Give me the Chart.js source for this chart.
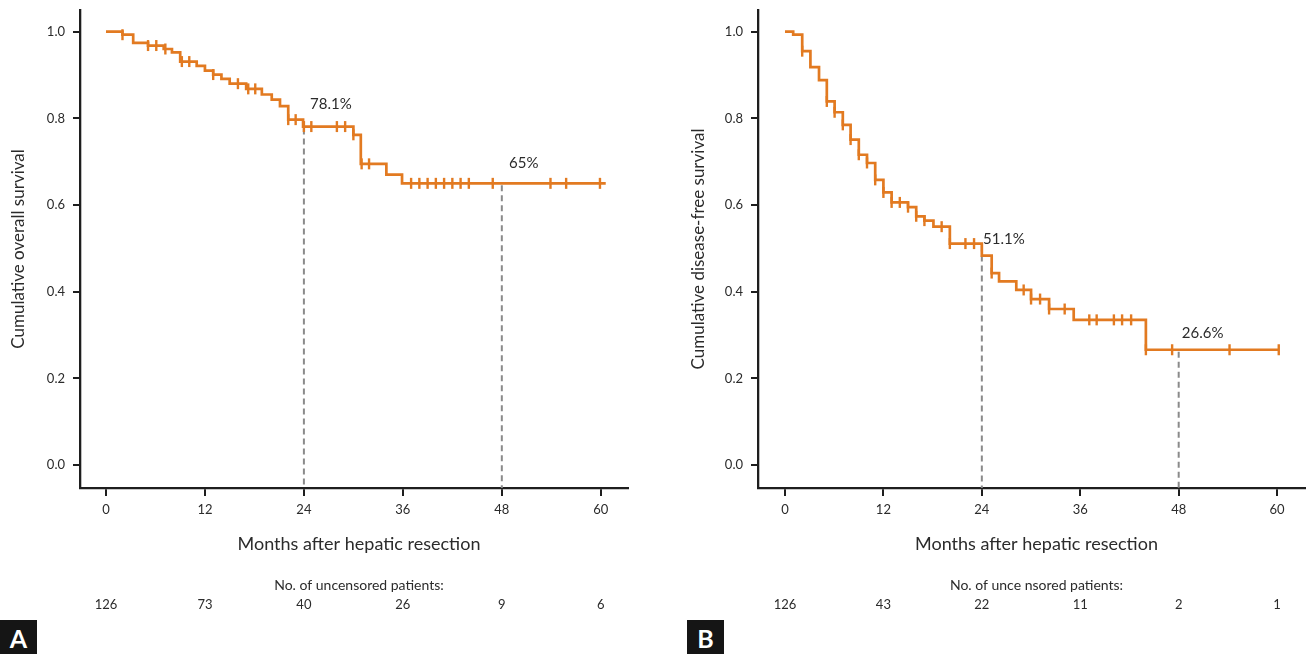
<!DOCTYPE html>
<html>
<head>
<meta charset="utf-8">
<title>Kaplan-Meier curves</title>
<script src="https://cdn.jsdelivr.net/npm/chart.js@4.4.1/dist/chart.umd.min.js"></script>
<style>
  html, body { margin: 0; padding: 0; background: #fff; }
  #wrap { position: relative; width: 1308px; height: 654px; overflow: hidden; }
  canvas { position: absolute; top: 0; }
  #chartA { left: 0; }
  #chartB { left: 680px; }
  .tag { position: absolute; top: 620px; width: 37px; height: 34px; background: #151515; color: #fff;
         font: bold 25px Lato, sans-serif; text-align: center; line-height: 36px; }
</style>
</head>
<body>
<div id="wrap">
  <canvas id="chartA" width="650" height="654"></canvas>
  <canvas id="chartB" width="628" height="654"></canvas>
  <div class="tag" style="left:0">A</div>
  <div class="tag" style="left:687px">B</div>
</div>
<script>
const monthTicks = [0, 12, 24, 36, 48, 60];
const survTicks = [0, 0.2, 0.4, 0.6, 0.8, 1.0];

// A: overall survival (step times / survival after each step)
const osMonths = [0, 2.0, 3.3, 5.1, 7.0, 8.0, 9.0, 11.0, 12.0, 13.0, 14.0, 15.0, 17.0, 18.9, 20.1, 21.1, 22.1, 23.9, 30.0, 30.9, 34.0, 35.9, 60.6];
const osSurv = [1.0, 0.993, 0.974, 0.968, 0.960, 0.952, 0.931, 0.921, 0.910, 0.901, 0.891, 0.880, 0.868, 0.855, 0.843, 0.828, 0.797, 0.781, 0.762, 0.695, 0.670, 0.650, 0.650];
const osCensored = [2.0, 5.1, 6.1, 7.2, 9.2, 10.1, 13.0, 16.0, 17.25, 18.1, 22.1, 23.0, 24.0, 24.9, 28.0, 29.0, 30.0, 31.0, 31.9, 37, 38, 39, 40, 41, 42, 43, 44, 46.9, 53.9, 55.8, 59.9];
const osAtRisk = [126, 73, 40, 26, 9, 6];
const osMarks = [{ month: 24, level: 0.781, text: "78.1%" }, { month: 48, level: 0.65, text: "65%" }];

// B: disease-free survival
const dfsMonths = [0, 1.0, 2.1, 3.1, 4.15, 5.1, 6.05, 7.05, 8.0, 9.0, 10.0, 11.0, 12.0, 13.0, 15.0, 16.0, 17.0, 18.1, 20.1, 24.0, 25.2, 26.1, 28.2, 30.0, 32.2, 35.2, 44.0, 60.2];
const dfsSurv = [1.0, 0.993, 0.955, 0.918, 0.888, 0.839, 0.814, 0.785, 0.751, 0.716, 0.697, 0.658, 0.629, 0.606, 0.595, 0.574, 0.564, 0.550, 0.511, 0.483, 0.443, 0.424, 0.404, 0.383, 0.360, 0.335, 0.266, 0.266];
const dfsCensored = [2.1, 5.1, 6.05, 7.05, 8.0, 9.0, 10.0, 11.0, 12.0, 13.0, 14.0, 15.0, 16.0, 17.0, 19.1, 20.1, 22.0, 23.05, 25.2, 29.1, 30.0, 31.1, 32.2, 34.1, 37.1, 38.0, 40.1, 41.1, 42.2, 44.0, 47.2, 54.2, 60.2];
const dfsAtRisk = [126, 43, 22, 11, 2, 1];
const dfsMarks = [{ month: 24, level: 0.511, text: "51.1%" }, { month: 48, level: 0.266, text: "26.6%" }];

const ORANGE = "#e27a21";
const INK = "#2b2b2b";
const FONT = "Lato, 'Open Sans', sans-serif";
const X_TITLE = "Months after hepatic resection";

function survAt(months, surv, t) {
    let v = surv[0];
    for (let i = 0; i < months.length; i++) {
        if (t >= months[i] - 1e-9) v = surv[i];
    }
    return v;
}

// dashed guides, percentage labels, x title and the number-at-risk row
const kmExtras = {
    id: "kmExtras",
    beforeDatasetsDraw(chart, args, opts) {
        const { ctx, scales: { x, y } } = chart;
        ctx.save();
        ctx.strokeStyle = "#8a8a8a";
        ctx.lineWidth = 2;
        ctx.setLineDash([6, 4]);
        opts.marks.forEach(m => {
            const px = x.getPixelForValue(m.month);
            ctx.beginPath();
            ctx.moveTo(px, y.getPixelForValue(m.level) + 2);
            ctx.lineTo(px, chart.chartArea.bottom);
            ctx.stroke();
        });
        ctx.restore();
    },
    afterDraw(chart, args, opts) {
        const { ctx, scales: { x, y } } = chart;
        const mid = (chart.chartArea.left + chart.chartArea.right) / 2 + 5;
        ctx.save();
        ctx.fillStyle = INK;
        ctx.textAlign = "center";
        ctx.textBaseline = "middle";
        ctx.font = "15px " + FONT;
        opts.marks.forEach((m, i) => {
            const off = opts.labelOffsets[i];
            ctx.fillText(m.text, x.getPixelForValue(m.month) + off[0], y.getPixelForValue(m.level) + off[1]);
        });
        ctx.font = "18px " + FONT;
        ctx.fillText(X_TITLE, mid, 544);
        ctx.font = "14px " + FONT;
        ctx.fillText(opts.riskTitle, mid, 585);
        ctx.font = "13px " + FONT;
        opts.atRisk.forEach((n, i) => {
            ctx.fillText(String(n), x.getPixelForValue(monthTicks[i]), 605);
        });
        ctx.restore();
    }
};

function buildChart(canvasId, cfg) {
    const steps = cfg.months.map((m, i) => ({ x: m, y: cfg.surv[i] }));
    const marks = cfg.censored.map(t => ({ x: t, y: survAt(cfg.months, cfg.surv, t) }));
    return new Chart(document.getElementById(canvasId), {
        type: "scatter",
        data: {
            datasets: [
                { data: steps, showLine: true, stepped: "before", borderColor: ORANGE, borderWidth: 2.7, pointRadius: 0, fill: false },
                { data: marks, showLine: false, pointStyle: "line", rotation: 90, pointRadius: 5.5, borderColor: ORANGE, backgroundColor: ORANGE, borderWidth: 2.4 }
            ]
        },
        options: {
            responsive: false,
            animation: false,
            events: [],
            layout: { autoPadding: false, padding: { top: 10, right: cfg.padRight, bottom: 96, left: 0 } },
            plugins: {
                legend: { display: false },
                tooltip: { enabled: false },
                kmExtras: { marks: cfg.marks, labelOffsets: cfg.labelOffsets, atRisk: cfg.atRisk, riskTitle: cfg.riskTitle }
            },
            scales: {
                x: {
                    type: "linear",
                    min: cfg.xMin,
                    max: cfg.xMax,
                    afterBuildTicks: s => { s.ticks = monthTicks.map(v => ({ value: v })); },
                    afterFit: s => { s.height = 70; s.paddingLeft = 0; s.paddingRight = 0; },
                    grid: { drawOnChartArea: false, drawTicks: true, tickLength: 8, color: "#1e1e1e", lineWidth: 2 },
                    border: { display: true, color: "#1e1e1e", width: 2.3 },
                    ticks: { font: { family: FONT, size: 13 }, color: INK, padding: 6, maxRotation: 0, autoSkip: false }
                },
                y: {
                    min: -0.053,
                    max: 1.05,
                    afterBuildTicks: s => { s.ticks = survTicks.map(v => ({ value: v })); },
                    afterFit: s => { s.width = cfg.yWidth; s.paddingTop = 0; s.paddingBottom = 0; },
                    grid: { drawOnChartArea: false, drawTicks: true, tickLength: 7, color: "#1e1e1e", lineWidth: 2 },
                    border: { display: true, color: "#1e1e1e", width: 2.3 },
                    ticks: { font: { family: FONT, size: 13 }, color: INK, padding: 8, callback: v => v.toFixed(1) },
                    title: { display: true, text: cfg.yTitle, color: INK, font: { family: FONT, size: 17 }, padding: { top: 8, bottom: 0 } }
                }
            }
        },
        plugins: [kmExtras]
    });
}

buildChart("chartA", {
    months: osMonths, surv: osSurv, censored: osCensored, atRisk: osAtRisk, marks: osMarks,
    labelOffsets: [[27, -22], [22, -20]],
    riskTitle: "No. of uncensored patients:",
    yTitle: "Cumulative overall survival",
    xMin: -3.15, xMax: 63.3, yWidth: 80, padRight: 22
});

buildChart("chartB", {
    months: dfsMonths, surv: dfsSurv, censored: dfsCensored, atRisk: dfsAtRisk, marks: dfsMarks,
    labelOffsets: [[22, -4], [24, -17]],
    riskTitle: "No. of unce nsored patients:",
    yTitle: "Cumulative disease-free survival",
    xMin: -3.29, xMax: 63.4, yWidth: 78, padRight: 3
});
</script>
</body>
</html>
